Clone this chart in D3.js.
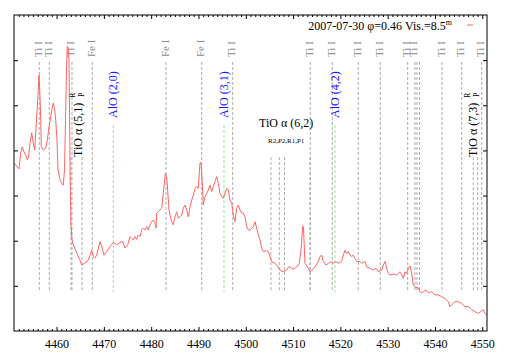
<!DOCTYPE html>
<html lang="en">
<head>
<meta charset="utf-8">
<script src="https://d3js.org/d3.v7.min.js"></script>
<style>
  body { margin: 0; background: #fff; }
  text { font-family: "Liberation Serif", "DejaVu Serif", serif; }
</style>
</head>
<body>
<div id="chart"></div>
<script>
// spectrum (wavelength in Å, flux in arbitrary units)
const wave = [4451.00,4451.32,4451.70,4452.06,4452.42,4452.75,4453.11,4453.54,4453.81,4454.07,
  4454.38,4454.74,4455.08,4455.38,4455.59,4455.93,4456.14,4456.29,4456.50,4456.64,
  4456.77,4457.19,4457.70,4458.04,4458.40,4458.76,4459.10,4459.31,4459.60,4459.82,
  4460.09,4460.30,4460.73,4461.15,4461.42,4461.68,4461.89,4462.10,4462.27,4462.48,
  4462.63,4462.78,4462.90,4463.05,4463.26,4463.54,4464.26,4464.95,4465.31,4466.01,
  4466.71,4467.07,4467.43,4467.77,4468.12,4468.48,4469.18,4469.54,4470.03,4470.60,
  4471.30,4471.99,4472.71,4473.41,4473.98,4474.47,4475.04,4475.52,4475.88,4476.22,
  4476.58,4476.94,4477.28,4477.64,4478.00,4478.34,4478.70,4479.05,4479.39,4479.75,
  4480.11,4480.45,4480.81,4481.02,4481.17,4481.51,4481.87,4482.23,4482.56,4482.78,
  4482.99,4483.28,4483.49,4483.77,4483.98,4484.34,4484.68,4485.04,4485.40,4485.74,
  4486.10,4486.45,4486.79,4487.15,4487.51,4487.85,4488.21,4488.57,4488.91,4489.27,
  4489.63,4489.96,4490.32,4490.53,4490.81,4491.02,4491.38,4491.74,4492.08,4492.44,
  4492.80,4493.14,4493.49,4493.85,4494.19,4494.55,4494.91,4495.25,4495.61,4495.97,
  4496.31,4496.67,4497.03,4497.36,4497.72,4498.08,4498.42,4498.78,4499.14,4499.48,
  4499.84,4500.20,4500.53,4500.89,4501.59,4501.95,4502.31,4502.65,4503.01,4503.37,
  4503.71,4504.42,4504.76,4505.12,4505.48,4506.18,4506.54,4507.24,4507.93,4508.65,
  4508.99,4509.35,4509.71,4510.05,4510.77,4511.32,4511.68,4511.89,4512.04,4512.21,
  4512.31,4512.52,4513.22,4513.58,4513.94,4514.64,4515.33,4515.69,4516.05,4516.39,
  4516.96,4517.45,4518.17,4518.51,4519.08,4519.56,4520.28,4520.62,4520.98,4521.34,
  4521.68,4522.04,4522.40,4522.73,4523.09,4523.45,4524.15,4524.51,4525.21,4525.57,
  4526.26,4526.96,4527.53,4528.02,4528.74,4529.08,4529.44,4529.79,4530.13,4530.49,
  4531.19,4531.91,4532.61,4532.97,4533.30,4533.66,4534.02,4534.36,4534.72,4535.08,
  4535.42,4535.78,4536.48,4536.84,4537.19,4537.53,4538.10,4538.59,4539.31,4540.01,
  4540.70,4541.42,4542.12,4542.82,4543.18,4543.54,4544.23,4544.93,4545.65,4546.35,
  4547.05,4547.77,4548.46,4549.16,4549.67,4550.22,4550.58,4550.94];
const flux = [3.72,3.68,3.63,3.59,3.94,4.08,3.97,3.88,3.79,3.85,
  4.16,4.39,4.16,4.01,4.39,4.96,5.38,5.67,5.18,4.74,
  4.08,4.01,4.05,4.23,4.52,4.74,4.96,5.05,4.90,4.67,
  4.23,3.57,3.35,3.26,3.23,3.57,4.67,5.78,6.31,6.27,
  6.00,4.45,3.12,2.35,2.02,1.91,1.73,1.57,1.46,1.51,
  1.57,1.68,1.79,1.65,1.62,1.68,1.98,1.87,1.68,1.76,
  1.87,1.96,1.91,1.96,1.98,1.84,1.91,2.09,2.05,2.02,
  2.09,2.03,2.13,2.09,2.24,2.28,2.24,2.31,2.24,2.35,
  2.42,2.46,2.39,2.28,2.61,2.64,2.68,2.72,3.05,3.27,
  3.49,3.42,3.12,2.68,2.57,2.42,2.35,2.53,2.64,2.50,
  2.53,2.57,2.72,2.79,2.68,2.53,2.75,2.90,3.01,3.16,
  3.20,3.16,3.72,3.73,3.27,2.79,2.98,3.05,3.12,3.23,
  3.09,3.20,3.31,3.42,3.27,3.05,2.98,2.94,3.05,3.16,
  3.12,2.90,2.83,2.57,2.42,2.72,2.79,2.68,2.61,2.61,
  2.53,2.31,2.24,2.24,2.31,2.42,2.28,2.13,2.02,1.83,
  1.76,1.78,1.76,1.65,1.54,1.50,1.46,1.35,1.31,1.35,
  1.41,1.42,1.39,1.37,1.42,1.50,1.79,2.09,2.33,2.28,
  2.02,1.50,1.39,1.31,1.35,1.42,1.54,1.65,1.68,1.54,
  1.46,1.50,1.54,1.50,1.54,1.50,1.54,1.68,1.79,1.72,
  1.76,1.68,1.65,1.68,1.61,1.54,1.54,1.50,1.54,1.42,
  1.39,1.35,1.39,1.31,1.35,1.46,1.54,1.39,1.28,1.24,
  1.26,1.24,1.31,1.24,1.17,1.31,1.28,1.39,1.44,1.28,
  1.02,0.98,0.95,0.87,0.84,0.87,0.91,0.85,0.87,0.80,
  0.80,0.76,0.72,0.65,0.54,0.58,0.65,0.65,0.61,0.54,
  0.54,0.47,0.43,0.39,0.43,0.47,0.39,0.35];

// line identifications
const tiLines = [4456.35,4458.46,4463.26,4497.24,4513.64,4518.29,4523.79,4528.44,4534.23,4535.77,4541.49,4545.65,4549.88];
const tiBlend = [4536.20,4536.73];
const feLines = [4467.55,4483.14,4490.68];
const aloLines = [4471.99,4495.40,4518.86];
const aloLabels = ["AlO (2,0)","AlO (3,1)","AlO (4,2)"];
const tio51 = [4463.05,4465.38];
const tio62 = [4505.33,4507.09,4508.19,4513.58];
const tio73 = [4548.10,4549.03];

const xTicks = d3.range(4460,4551,10);
const xMinor = d3.range(4452,4551,1).filter(d => d % 10 !== 0);
const yTicks = [1,2,3,4,5,6];
const legendText = "2007-07-30 φ=0.46 Vis.=8.5";

const margin = {top: 15, right: 22, bottom: 25, left: 14},
      width = 509 - margin.left - margin.right,
      height = 356 - margin.top - margin.bottom;

const svg = d3.select("#chart")
  .append("svg")
    .attr("width", 509)
    .attr("height", 356)
  .append("g")
    .attr("transform", `translate(${margin.left},${margin.top})`);

const x = d3.scaleLinear().domain([4451, 4551]).range([0, width]);
const y = d3.scaleLinear().domain([0, 7]).range([height, 0]);

// axes, gnuplot style: ticks pointing inward on all four sides
function styleAxis(g) {
  g.select(".domain").remove();
  g.selectAll(".tick line").attr("stroke", "#000");
}
svg.append("g")
  .attr("transform", `translate(0,${height})`)
  .call(d3.axisBottom(x).tickValues(xTicks).tickSize(-4).tickPadding(8.5).tickFormat(d3.format("d")))
  .call(styleAxis)
  .selectAll("text").style("font-size", "12px").style("font-family", "Liberation Serif, serif").attr("fill", "#000");
svg.append("g")
  .attr("transform", `translate(0,${height})`)
  .call(d3.axisBottom(x).tickValues(xMinor).tickSize(-2).tickFormat(""))
  .call(styleAxis);
svg.append("g")
  .call(d3.axisTop(x).tickValues(xTicks).tickSize(-4).tickFormat(""))
  .call(styleAxis);
svg.append("g")
  .call(d3.axisTop(x).tickValues(xMinor).tickSize(-2).tickFormat(""))
  .call(styleAxis);
svg.append("g")
  .call(d3.axisLeft(y).tickValues(yTicks).tickSize(-4).tickFormat(""))
  .call(styleAxis);
svg.append("g")
  .attr("transform", `translate(${width},0)`)
  .call(d3.axisRight(y).tickValues(yTicks).tickSize(-4).tickFormat(""))
  .call(styleAxis);

// marker lines
const lineTop = 5.96, aloTop = 4.56, tioTop = 3.85, lineBottom = 0.86;
function vlines(data, top, color) {
  svg.append("g").selectAll("line")
    .data(data)
    .join("line")
      .attr("x1", d => x(d)).attr("x2", d => x(d))
      .attr("y1", y(top)).attr("y2", y(lineBottom))
      .attr("stroke", color)
      .attr("stroke-width", 1)
      .attr("stroke-dasharray", "3,2");
}
vlines(tiLines, lineTop, "#aaa");
vlines(tiBlend, lineTop, "#aaa");
vlines(feLines, lineTop, "#aaa");
vlines(tio51, tioTop, "#aaa");
vlines(tio62, tioTop, "#aaa");
vlines(tio73, tioTop, "#aaa");
vlines(aloLines, aloTop, "#8ee88e");

// atomic line labels
const atomLabels = tiLines.map(d => ({w: d, t: "Ti I"})).concat(feLines.map(d => ({w: d, t: "Fe I"})));
svg.append("g").selectAll("text")
  .data(atomLabels)
  .join("text")
    .attr("transform", d => `translate(${x(d.w) + 2.5},${42}) rotate(-90)`)
    .style("font-size", "11px")
    .attr("fill", "#8c8c8c")
    .text(d => d.t);

// AlO labels
svg.append("g").selectAll("text")
  .data(aloLines)
  .join("text")
    .attr("transform", d => `translate(${x(d) + 4},${103}) rotate(-90)`)
    .style("font-size", "12px")
    .attr("fill", "#1a1aff")
    .text((d, i) => aloLabels[i]);

// TiO band labels (rotated)
function tioRotated(lines, name) {
  const g = svg.append("g")
    .attr("transform", `translate(${x(lines[1]) - 0.5},${142}) rotate(-90)`);
  g.append("text").attr("x", 0).attr("y", 0)
    .style("font-size", "12px").attr("fill", "#000").text(name);
  g.append("text").attr("x", 59).attr("y", -7)
    .style("font-size", "8px").attr("fill", "#000").text("R");
  g.append("text").attr("x", 60).attr("y", 2)
    .style("font-size", "8px").attr("fill", "#000").text("P");
}
tioRotated(tio51, "TiO α (5,1)");
tioRotated(tio73, "TiO α (7,3)");

const c62 = d3.mean(tio62, d => x(d));
svg.append("text")
  .attr("x", c62).attr("y", 112)
  .attr("text-anchor", "middle")
  .style("font-size", "12px")
  .text("TiO α (6,2)");
svg.append("text")
  .attr("x", c62).attr("y", 128)
  .attr("text-anchor", "middle")
  .style("font-size", "7px")
  .text("R2,P2,R1,P1");

// spectrum
svg.append("path")
  .datum(wave.map((w, i) => [w, flux[i]]))
  .attr("fill", "none")
  .attr("stroke", "#ff6464")
  .attr("stroke-width", 1)
  .attr("d", d3.line().x(d => x(d[0])).y(d => y(d[1])));

// frame
svg.append("rect")
  .attr("width", width).attr("height", height)
  .attr("fill", "none").attr("stroke", "#000").attr("stroke-width", 1);

// legend
const leg = svg.append("text")
  .attr("x", 438).attr("y", 15)
  .attr("text-anchor", "end")
  .style("font-size", "12px");
leg.append("tspan").text(legendText);
leg.append("tspan").attr("dy", -5).style("font-size", "8px").text("m");
svg.append("line")
  .attr("x1", 453).attr("x2", 459).attr("y1", 10).attr("y2", 10)
  .attr("stroke", "#ff6464");
</script>
</body>
</html>
